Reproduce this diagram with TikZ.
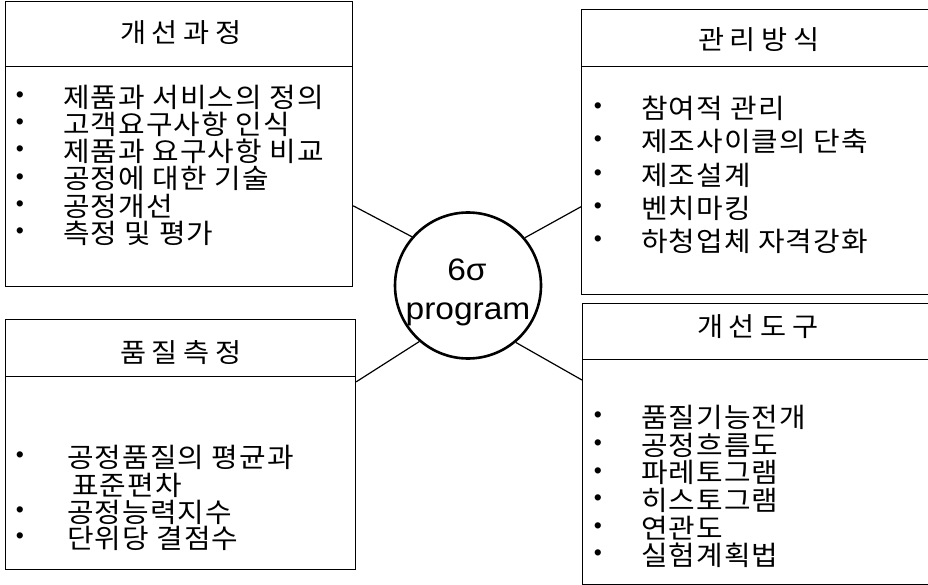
\documentclass[tikz,border=0pt]{standalone}
\usepackage{fontspec}
\usetikzlibrary{calc}
\setmainfont{Liberation Sans}
\newfontfamily\kr[FakeStretch=1.07,LetterSpace=4]{Noto Sans CJK KR}
\newfontfamily\krt[FakeStretch=1.07,LetterSpace=22]{Noto Sans CJK KR}
\newfontfamily\lat[FakeStretch=1.08]{Liberation Sans}
\begin{document}
\begin{tikzpicture}[x=1pt,y=-1pt,
  box/.style={draw,line width=1.2pt,rectangle,inner sep=0pt,anchor=north west},
  ttl/.style={font=\krt\fontsize{26.5}{28}\selectfont,anchor=center,inner sep=0pt},
  itm/.style={font=\kr\fontsize{27}{28}\selectfont,anchor=west,inner sep=0pt},
  bul/.style={font=\fontsize{23}{26}\selectfont,anchor=center,inner sep=0pt},
  ctext/.style={font=\lat\fontsize{31}{32}\selectfont,anchor=base,inner sep=0pt},
  link/.style={line width=1.2pt}]
\useasboundingbox (0,0) rectangle (928,585);
% boxes
\node[box,minimum width=347pt,minimum height=65pt]  (tlT) at (5,1) {};
\node[box,minimum width=347pt,minimum height=220pt] (tlL) at (5,66) {};
\node[box,minimum width=350pt,minimum height=57pt]  (blT) at (5,319) {};
\node[box,minimum width=350pt,minimum height=193pt] (blL) at (5,376) {};
\node[box,minimum width=349pt,minimum height=57pt]  (trT) at (581,9) {};
\node[box,minimum width=349pt,minimum height=228pt] (trL) at (581,66) {};
\node[box,minimum width=348pt,minimum height=56pt]  (brT) at (582,303) {};
\node[box,minimum width=348pt,minimum height=225pt] (brL) at (582,359) {};
% titles
\node[ttl] (tlTt) at (181,33) {개선과정};
\node[ttl] (blTt) at (181,353) {품질측정};
\node[ttl] (trTt) at (759,40) {관리방식};
\node[ttl] (brTt) at (758,327) {개선도구};
% top-left items
\foreach \t [count=\i] in {제품과 서비스의 정의, 고객요구사항 인식, 제품과 요구사항 비교, 공정에 대한 기술, 공정개선, 측정 및 평가}{
  \node[bul] (tlb\i) at (20,{70+27.2*\i}) {•};
  \node[itm] (tli\i) at (63,{70+27.2*\i}) {\t};
}
% bottom-left items
\node[bul] (blb1) at (20,457) {•};
\node[itm] (bli1) at (67,457) {공정품질의 평균과};
\node[itm] (bli2) at (72,485) {표준편차};
\node[bul] (blb3) at (20,512) {•};
\node[itm] (bli3) at (67,512) {공정능력지수};
\node[bul] (blb4) at (20,538) {•};
\node[itm] (bli4) at (67,538) {단위당 결점수};
% top-right items
\foreach \t [count=\i] in {참여적 관리, 제조사이클의 단축, 제조설계, 벤치마킹, 하청업체 자격강화}{
  \node[bul] (trb\i) at (598,{75+33.3*\i}) {•};
  \node[itm] (tri\i) at (641,{75+33.3*\i}) {\t};
}
% bottom-right items
\foreach \t [count=\i] in {품질기능전개, 공정흐름도, 파레토그램, 히스토그램, 연관도, 실험계획법}{
  \node[bul] (brb\i) at (598,{390+27.6*\i}) {•};
  \node[itm] (bri\i) at (641,{390+27.6*\i}) {\t};
}
% centre
\node[draw,circle,line width=2.6pt,minimum size=146pt,inner sep=0pt] (c) at (468,285.5) {};
\node[ctext] (c1) at (467,280) {6σ};
\node[ctext] (c2) at (468,319) {program};
% connectors
\draw[link] ($(tlL.north east)!0.632!(tlL.south east)$) -- (c.139.6);
\draw[link] (c.40.4) -- ($(trL.north west)!0.614!(trL.south west)$);
\draw[link] ($(blL.north east)!0.03!(blL.south east)$) -- (c.229);
\draw[link] (c.310) -- ($(brL.north west)!0.093!(brL.south west)$);
\end{tikzpicture}
\end{document}
